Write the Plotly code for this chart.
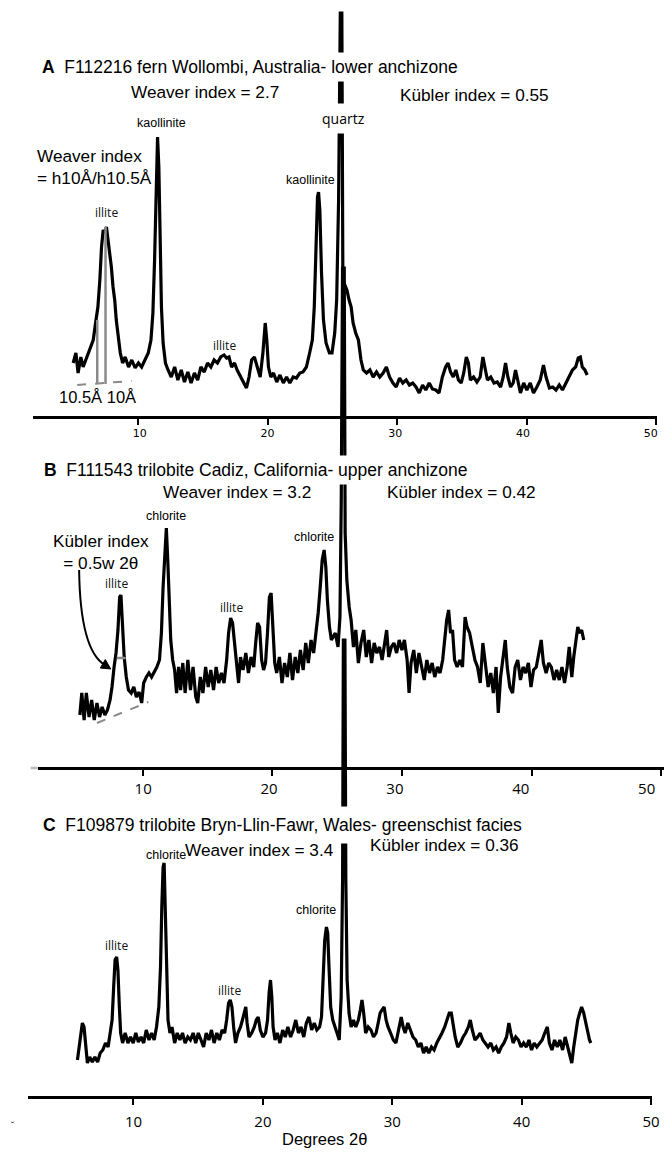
import plotly.graph_objects as go

# the browser body keeps an 8px margin: the figure starts at page pixel (8, 8)
OFF = 8
W, H = 672 - OFF, 1157 - 2 * OFF

# ---------------- data (2-theta in degrees, intensity in arbitrary units) ----------------
A_2THETA = [4.96, 5.17, 5.34, 5.55, 5.73, 5.93, 6.13, 6.31, 6.51, 6.69, 6.87, 7.02, 7.15, 7.28, 7.40, 7.53, 7.66,
            7.79, 7.91, 8.04, 8.17, 8.29, 8.42, 8.60, 8.78, 8.98, 9.24, 9.49, 9.75, 10.0, 10.25, 10.51, 10.76,
            10.97, 11.12, 11.25, 11.37, 11.48, 11.58, 11.68, 11.78, 11.91, 12.09, 12.29, 12.54, 12.80, 13.05,
            13.31, 13.56, 13.82, 14.07, 14.33, 14.58, 14.83, 15.09, 15.34, 15.60, 15.85, 16.11, 16.36, 16.62,
            16.82, 17.0, 17.2, 17.43, 17.63, 17.89, 18.14, 18.35, 18.55, 18.75, 18.96, 19.16, 19.41, 19.62,
            19.80, 19.92, 20.05, 20.23, 20.44, 20.69, 20.94, 21.20, 21.45, 21.70, 21.96, 22.21, 22.47, 22.72,
            22.98, 23.23, 23.44, 23.59, 23.72, 23.84, 23.92, 24.02, 24.15, 24.30, 24.50, 24.76, 24.96, 25.17,
            25.32, 25.47, 25.60, 25.72, 25.80, 26.11, 26.28, 26.44, 26.59, 26.79, 27.0, 27.2, 27.38, 27.63,
            27.89, 28.14, 28.40, 28.65, 28.91, 29.16, 29.41, 29.67, 29.92, 30.18, 30.43, 30.69, 30.94, 31.2,
            31.45, 31.7, 31.96, 32.21, 32.47, 32.72, 32.98, 33.23, 33.49, 33.74, 33.92, 34.12, 34.33, 34.53,
            34.73, 34.94, 35.14, 35.34, 35.5, 35.65, 35.9, 36.16, 36.41, 36.62, 36.77, 36.97, 37.23, 37.48,
            37.73, 37.99, 38.19, 38.37, 38.55, 38.76, 38.96, 39.14, 39.31, 39.52, 39.77, 40.02, 40.28, 40.53,
            40.79, 41.05, 41.3, 41.5, 41.76, 42.01, 42.27, 42.52, 42.77, 43.03, 43.28, 43.54, 43.79, 43.99,
            44.15, 44.30, 44.5, 44.68]
A_INT = [54, 64, 44, 60, 50, 57, 64, 70, 77, 94, 110, 137, 170, 187, 184, 190, 177,
         167, 150, 130, 117, 97, 84, 64, 54, 60, 50, 57, 49, 54, 50, 57, 64,
         77, 104, 157, 234, 280, 250, 177, 110, 74, 54, 47, 40, 50, 37,
         47, 35, 45, 34, 44, 37, 50, 45, 54, 50, 57, 54, 60, 62,
         59, 60, 50, 54, 47, 40, 35, 29, 40, 57, 60, 50, 40, 64,
         94, 77, 50, 40, 44, 35, 42, 34, 40, 34, 40, 39, 44, 45,
         50, 64, 77, 110, 167, 220, 225, 207, 144, 97, 74, 64, 64, 84,
         117, 217, 404, 404, 137, 127, 117, 110, 94, 84, 77, 57, 47, 44,
         47, 40, 45, 40, 44, 50, 40, 34, 30, 39, 34, 37, 32, 34,
         30, 24, 32, 27, 34, 28, 27, 24, 40, 50, 54, 45, 40, 47,
         37, 34, 44, 60, 54, 37, 40, 35, 40, 60, 50, 37, 40, 34,
         35, 30, 40, 54, 40, 30, 34, 47, 37, 24, 34, 27, 34, 24,
         30, 37, 52, 40, 29, 30, 27, 32, 27, 34, 40, 47, 50, 59,
         60, 50, 47, 42]

B_2THETA = [5.16, 5.31, 5.49, 5.66, 5.87, 6.07, 6.27, 6.48, 6.68, 6.88, 7.09, 7.29, 7.49, 7.64, 7.80, 7.95, 8.10,
            8.23, 8.33, 8.46, 8.58, 8.74, 8.91, 9.12, 9.32, 9.52, 9.73, 9.93, 10.08, 10.29, 10.49, 10.69, 10.9,
            11.1, 11.30, 11.45, 11.58, 11.71, 11.83, 11.94, 12.04, 12.17, 12.32, 12.47, 12.62, 12.78, 12.93,
            13.10, 13.28, 13.49, 13.69, 13.89, 14.10, 14.25, 14.45, 14.65, 14.86, 15.06, 15.26, 15.47, 15.67,
            15.87, 16.08, 16.28, 16.48, 16.63, 16.79, 16.94, 17.09, 17.24, 17.40, 17.55, 17.75, 17.96, 18.16,
            18.36, 18.57, 18.72, 18.87, 19.02, 19.18, 19.33, 19.48, 19.63, 19.78, 19.91, 20.04, 20.19, 20.34,
            20.55, 20.75, 20.95, 21.16, 21.36, 21.56, 21.77, 21.97, 22.17, 22.38, 22.58, 22.78, 22.99, 23.19,
            23.39, 23.54, 23.70, 23.85, 24.0, 24.13, 24.25, 24.41, 24.56, 24.86, 25.07, 25.22, 25.32, 25.42,
            25.55, 25.62, 25.75, 25.93, 26.08, 26.26, 26.44, 26.64, 26.84, 27.05, 27.25, 27.45, 27.66, 27.86,
            28.06, 28.27, 28.47, 28.67, 28.82, 28.98, 29.18, 29.38, 29.59, 29.79, 30.0, 30.19, 30.4, 30.55,
            30.70, 30.91, 31.11, 31.31, 31.52, 31.72, 31.92, 32.13, 32.33, 32.53, 32.74, 32.94, 33.14, 33.3,
            33.45, 33.6, 33.75, 33.90, 34.06, 34.26, 34.46, 34.67, 34.87, 35.02, 35.22, 35.43, 35.63, 35.83,
            36.04, 36.24, 36.44, 36.65, 36.85, 37.05, 37.26, 37.43, 37.61, 37.81, 37.97, 38.12, 38.32, 38.53,
            38.73, 38.93, 39.14, 39.34, 39.54, 39.75, 39.95, 40.15, 40.36, 40.56, 40.74, 40.91, 41.12, 41.32,
            41.52, 41.73, 41.93, 42.13, 42.34, 42.54, 42.74, 42.9, 43.1, 43.25, 43.41, 43.56, 43.71, 43.86,
            44.02]
B_INT = [53, 75, 48, 75, 51, 68, 48, 65, 51, 61, 53, 58, 68, 81, 101, 115, 138,
         171, 173, 138, 111, 91, 78, 75, 81, 71, 76, 65, 85, 91, 95, 91, 96,
         101, 108, 135, 181, 221, 240, 208, 161, 128, 108, 98, 75, 101, 78,
         105, 75, 108, 78, 101, 71, 65, 91, 75, 101, 81, 98, 78, 101,
         85, 95, 85, 108, 135, 150, 145, 125, 101, 85, 111, 98, 115, 95,
         111, 101, 125, 145, 141, 108, 98, 105, 135, 171, 175, 141, 105, 95,
         111, 85, 105, 91, 115, 88, 111, 95, 118, 98, 125, 105, 128, 115,
         135, 155, 181, 208, 218, 201, 168, 141, 128, 135, 121, 151, 268, 500,
         500, 235, 188, 161, 148, 121, 138, 105, 125, 138, 111, 128, 105, 125,
         115, 121, 108, 128, 138, 111, 121, 125, 115, 128, 118, 128, 108, 75,
         105, 118, 95, 115, 101, 88, 108, 95, 105, 91, 101, 95, 108, 128,
         148, 158, 135, 138, 108, 101, 108, 101, 151, 141, 135, 121, 108, 101,
         85, 125, 101, 81, 95, 75, 101, 55, 91, 115, 128, 101, 81, 75,
         101, 108, 88, 101, 95, 105, 81, 98, 101, 115, 128, 105, 95, 105,
         101, 88, 98, 88, 101, 85, 101, 121, 91, 111, 128, 141, 135, 138,
         128]

C_2THETA = [5.67, 5.80, 5.93, 6.05, 6.18, 6.31, 6.44, 6.62, 6.82, 7.02, 7.23, 7.43, 7.63, 7.84, 8.04, 8.20, 8.35,
            8.47, 8.58, 8.70, 8.80, 8.91, 9.01, 9.16, 9.36, 9.57, 9.77, 9.98, 10.18, 10.38, 10.59, 10.79, 10.99,
            11.2, 11.40, 11.60, 11.78, 11.96, 12.09, 12.19, 12.29, 12.37, 12.47, 12.57, 12.67, 12.82, 12.98,
            13.18, 13.38, 13.59, 13.79, 13.99, 14.2, 14.40, 14.61, 14.81, 15.01, 15.22, 15.42, 15.62, 15.83,
            16.03, 16.23, 16.44, 16.64, 16.85, 17.05, 17.2, 17.35, 17.48, 17.61, 17.74, 17.89, 18.07, 18.27,
            18.42, 18.58, 18.68, 18.78, 18.93, 19.14, 19.34, 19.49, 19.64, 19.80, 20.0, 20.21, 20.36, 20.48,
            20.59, 20.69, 20.79, 20.94, 21.12, 21.32, 21.53, 21.73, 21.93, 22.14, 22.34, 22.54, 22.75, 22.95,
            23.16, 23.36, 23.56, 23.77, 23.97, 24.17, 24.38, 24.53, 24.66, 24.78, 24.91, 25.01, 25.11, 25.24,
            25.40, 25.55, 25.73, 25.90, 26.05, 26.16, 26.22, 26.34, 26.41, 26.51, 26.66, 26.82, 27.0, 27.18,
            27.38, 27.53, 27.66, 27.79, 27.94, 28.14, 28.35, 28.55, 28.75, 28.91, 29.06, 29.21, 29.37, 29.52,
            29.67, 29.87, 30.08, 30.28, 30.48, 30.69, 30.84, 30.99, 31.2, 31.40, 31.60, 31.81, 32.01, 32.21,
            32.42, 32.62, 32.82, 33.03, 33.23, 33.44, 33.64, 33.84, 34.05, 34.25, 34.40, 34.56, 34.71, 34.86,
            35.06, 35.27, 35.47, 35.67, 35.88, 36.03, 36.18, 36.39, 36.59, 36.79, 37.0, 37.2, 37.40, 37.61,
            37.81, 38.02, 38.22, 38.42, 38.63, 38.83, 39.01, 39.16, 39.34, 39.54, 39.75, 39.95, 40.15, 40.36,
            40.56, 40.76, 40.97, 41.17, 41.37, 41.58, 41.78, 41.98, 42.14, 42.34, 42.54, 42.75, 42.95, 43.16,
            43.36, 43.56, 43.72, 43.87, 44.02, 44.18, 44.33, 44.48, 44.63, 44.79, 44.94, 45.09, 45.24, 45.34]
C_INT = [37, 50, 64, 74, 70, 50, 34, 40, 35, 40, 35, 44, 47, 54, 50, 64, 77,
         110, 137, 140, 127, 90, 64, 54, 64, 54, 60, 54, 64, 55, 60, 54, 67,
         57, 64, 57, 70, 90, 130, 190, 230, 234, 177, 110, 77, 64, 70,
         54, 64, 57, 64, 54, 60, 57, 64, 54, 64, 57, 50, 64, 57,
         67, 54, 64, 57, 67, 64, 77, 94, 97, 90, 70, 54, 64, 70,
         77, 87, 90, 74, 60, 64, 70, 77, 80, 67, 60, 64, 77, 104,
         117, 100, 70, 57, 64, 54, 67, 60, 70, 60, 67, 77, 64, 70,
         60, 74, 80, 67, 74, 67, 70, 80, 117, 157, 170, 164, 130, 90,
         77, 70, 64, 57, 100, 217, 457, 457, 217, 117, 84, 70, 77, 70,
         77, 87, 97, 84, 64, 70, 67, 60, 64, 74, 84, 87, 90, 77,
         70, 64, 57, 54, 67, 80, 70, 64, 74, 67, 60, 57, 50, 54,
         44, 50, 44, 50, 47, 54, 60, 64, 70, 77, 84, 84, 70, 60,
         50, 54, 60, 64, 70, 77, 67, 57, 60, 64, 57, 54, 50, 54,
         47, 50, 44, 50, 54, 60, 74, 64, 54, 60, 57, 50, 54, 50,
         57, 47, 54, 50, 54, 57, 64, 70, 54, 47, 57, 50, 57, 47,
         60, 50, 44, 34, 50, 64, 77, 84, 90, 84, 74, 64, 57, 54]

TICKS = [10, 20, 30, 40, 50]

# baseline (axis line) of each panel, in page pixels from the top
BASE_A, BASE_B, BASE_C = 417, 768, 1097


# ---------------- helpers for placement (page pixel -> paper) ----------------
def px(x):
    return (x - OFF) / W


def py(y):
    return 1 - (y - OFF) / H


def yrange(base):
    # 1 intensity unit = 1 px, zero at the panel's axis line
    return [-(OFF + H - base), base - OFF]


LW = 3.2
fig = go.Figure()
fig.add_trace(go.Scatter(x=A_2THETA, y=A_INT, mode="lines", line=dict(color="black", width=LW),
                         xaxis="x", yaxis="y", showlegend=False, hoverinfo="skip"))
fig.add_trace(go.Scatter(x=B_2THETA, y=B_INT, mode="lines", line=dict(color="black", width=LW),
                         xaxis="x2", yaxis="y2", showlegend=False, hoverinfo="skip"))
fig.add_trace(go.Scatter(x=C_2THETA, y=C_INT, mode="lines", line=dict(color="black", width=LW),
                         xaxis="x3", yaxis="y3", showlegend=False, hoverinfo="skip"))
# empty carriers for the label-only axes of panels A and B (their printed labels sit slightly
# left of the tick marks in the original figure)
fig.add_trace(go.Scatter(x=[], y=[], xaxis="x4", yaxis="y", showlegend=False, hoverinfo="skip"))
fig.add_trace(go.Scatter(x=[], y=[], xaxis="x5", yaxis="y2", showlegend=False, hoverinfo="skip"))


def xax(x0, x1, rng, base, font, standoff, labels=True, line=True, tickcolor="black"):
    return dict(domain=[px(x0), min(1.0, px(x1))], range=rng, anchor="free", position=py(base),
                showline=line, linecolor="black", linewidth=2.5, ticks="outside", ticklen=6, tickwidth=2,
                tickcolor=tickcolor, tickvals=TICKS, showticklabels=labels, tickfont=font, showgrid=False,
                zeroline=False, fixedrange=True, ticklabelstandoff=standoff)


def yax(rng, anchor):
    return dict(domain=[0, 1], range=rng, visible=False, anchor=anchor, fixedrange=True)


FA = dict(family="DejaVu Sans", size=11, color="black")
FB = dict(family="Open Sans", size=15, color="black")
CLEAR = "rgba(0,0,0,0)"
fig.update_layout(
    width=W, height=H, autosize=False,
    margin=dict(l=0, r=0, t=0, b=0),
    paper_bgcolor="white", plot_bgcolor=CLEAR,
    xaxis=xax(33, 665, [1.832, 50.08], BASE_A, FA, 0, labels=False),
    xaxis2=xax(38, 672, [1.905, 50.21], BASE_B, FB, 0, labels=False),
    xaxis3=xax(28, 660, [1.832, 50.08], BASE_C, FB, 4),
    xaxis4=xax(33, 665, [1.624, 50.50], BASE_A, FA, 0, line=False, tickcolor=CLEAR),
    xaxis5=xax(38, 672, [1.617, 51.38], BASE_B, FB, 1, line=False, tickcolor=CLEAR),
    yaxis=yax(yrange(BASE_A), "x"),
    yaxis2=yax(yrange(BASE_B), "x2"),
    yaxis3=yax(yrange(BASE_C), "x3"),
)

GRAY = "#8a8a8a"
shapes = []
# panel A: Weaver index construction
shapes.append(dict(type="line", xref="x", yref="y", x0=5.27, y0=32, x1=9.47, y1=36,
                   line=dict(color=GRAY, width=2, dash="dash")))
shapes.append(dict(type="line", xref="x", yref="y", x0=6.82, y0=34, x1=6.82, y1=97,
                   line=dict(color=GRAY, width=2.5)))
shapes.append(dict(type="line", xref="x", yref="y", x0=7.46, y0=33, x1=7.46, y1=190,
                   line=dict(color=GRAY, width=2.5)))
# panel B: Kubler index construction
shapes.append(dict(type="line", xref="x2", yref="y2", x0=6.48, y0=45, x1=10.44, y1=66,
                   line=dict(color=GRAY, width=2, dash="dash")))
shapes.append(dict(type="line", xref="x2", yref="y2", x0=8.0, y0=110, x1=8.69, y1=110,
                   line=dict(color=GRAY, width=2.5)))
# light stub at the left end of axis B
shapes.append(dict(type="line", xref="paper", yref="paper", x0=px(31), y0=py(768), x1=px(38), y1=py(768),
                   line=dict(color="#bbbbbb", width=2.5)))
# curved arrow
shapes.append(dict(type="path", xref="paper", yref="paper",
                   path=f"M {px(80)},{py(570)} Q {px(81)},{py(650)} {px(106)},{py(665)}",
                   line=dict(color="black", width=2)))
shapes.append(dict(type="path", xref="paper", yref="paper",
                   path=f"M {px(112)},{py(669)} L {px(101.5)},{py(668)} L {px(106.5)},{py(659.5)} Z",
                   fillcolor="black", line=dict(color="black", width=1)))
fig.update_layout(shapes=shapes)

ann = []


def T(text, x, y, size=16, family="Liberation Sans", xanchor="center", bg=None, pad=1, color="black",
      align="center"):
    d = dict(text=text, x=px(x), y=py(y), xref="paper", yref="paper", showarrow=False,
             xanchor=xanchor, yanchor="middle", align=align,
             font=dict(family=family, size=size, color=color), borderpad=pad)
    if bg:
        d["bgcolor"] = bg
    ann.append(d)


NB = "\u00a0"
TS = 17.5   # titles
IS = 17.2   # index labels
# Panel A
T(f"<b>A</b>{NB}{NB}F112216 fern Wollombi, Australia- lower anchizone", 37, 67, size=TS,
  xanchor="left", bg="white", pad=4)
T("Weaver index = 2.7", 207, 92, size=IS)
T("Kübler index = 0.55", 480, 95, size=IS)
T("quartz", 348, 118, size=14, family="Open Sans", bg="white", pad=5)
T("kaollinite", 163, 123, size=12.5)
T("Weaver index<br>= h10Å/h10.5Å", 35, 167, size=IS, xanchor="left", align="left")
T("illite", 108, 213, size=12, family="Open Sans", color="#111")
T("kaollinite", 314, 180, size=12.5)
T("illite", 227, 346, size=12, family="Open Sans", color="#111")
T("10.5Å 10Å", 58, 397, size=16.5, xanchor="left")
# Panel B
T(f"<b>B</b>{NB}{NB}F111543 trilobite Cadiz, California- upper anchizone", 39, 470, size=TS,
  xanchor="left", bg="white", pad=4)
T("Weaver index = 3.2", 240, 492, size=IS)
T("Kübler index = 0.42", 467, 492, size=IS)
T("chlorite", 168, 516, size=12.5)
T("Kübler index<br>= 0.5w 2θ", 102, 552, size=IS)
T("illite", 118, 583, size=12, family="Open Sans", color="#111")
T("illite", 234, 607, size=12, family="Open Sans", color="#111")
T("chlorite", 318, 537, size=12.5)
# Panel C
T(f"<b>C</b>{NB}{NB}F109879 trilobite Bryn-Llin-Fawr, Wales- greenschist facies", 34, 825, size=TS,
  xanchor="left", bg="white", pad=8)
T("Weaver index = 3.4", 263, 850, size=IS)
T("Kübler index = 0.36", 450, 845, size=IS)
T("chlorite", 168, 855, size=12.5)
T("illite", 118, 945, size=12, family="Open Sans", color="#111")
T("chlorite", 320, 910, size=12.5)
T("illite", 232, 990, size=12, family="Open Sans", color="#111")
T("˘", 13, 1125, size=10, color="#444")
T("Degrees 2θ", 328, 1139, size=16.5)
fig.update_layout(annotations=ann)

fig.write_html("out.html")
